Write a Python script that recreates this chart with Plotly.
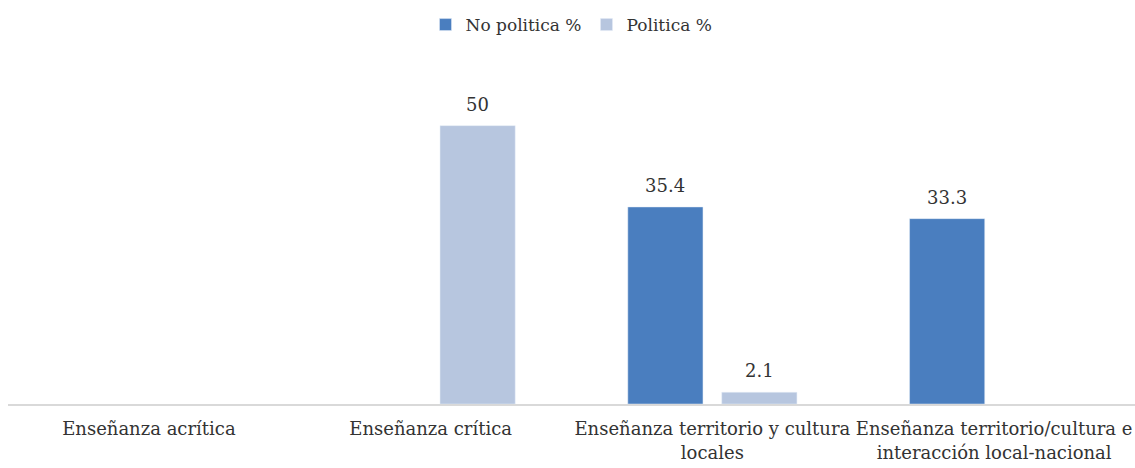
import plotly.graph_objects as go

categories = [
    "Enseñanza acrítica",
    "Enseñanza crítica",
    "Enseñanza territorio y cultura<br>locales",
    "Enseñanza territorio/cultura e<br>interacción local-nacional",
]
no_politica = [None, None, 35.4, 33.3]
politica = [None, 50, 2.1, None]
series_names = ["No politica %", "Politica %"]
series_colors = ["#4A7EBF", "#B7C6DF"]

FONT = "DejaVu Serif, Liberation Serif, serif"
TEXT_COLOR = "#333333"

fig = go.Figure()
for name, vals, color in zip(series_names, [no_politica, politica], series_colors):
    fig.add_trace(go.Bar(x=categories, y=vals, name=name, marker_color=color))

# value labels sit a little above each bar, shifted to its slot in the group
slot_shift = {0: -47, 1: 47}
for i, vals in enumerate([no_politica, politica]):
    for cat, v in zip(categories, vals):
        if v is None:
            continue
        fig.add_annotation(
            x=cat, y=v, xref="x", yref="y", text=f"{v:g}", showarrow=False,
            xshift=slot_shift[i], yshift=9, yanchor="bottom",
            font=dict(family=FONT, size=18, color=TEXT_COLOR),
        )

fig.update_layout(
    width=1135, height=468,
    barmode="group", bargap=0.333, bargroupgap=0.2,
    margin=dict(l=8, r=0, t=70, b=64),
    paper_bgcolor="white", plot_bgcolor="white",
    font=dict(family=FONT, size=18, color=TEXT_COLOR),
    legend=dict(
        orientation="h", x=0.5, xanchor="center", y=0.985, yanchor="top",
        yref="container", font=dict(family=FONT, size=17, color=TEXT_COLOR),
        itemwidth=30, traceorder="normal",
    ),
    xaxis=dict(
        showline=True, linecolor="#D9D9D9", linewidth=1.5,
        ticks="", tickfont=dict(family=FONT, size=18, color=TEXT_COLOR),
        ticklabelstandoff=8, showgrid=False,
    ),
    yaxis=dict(range=[0, 60], visible=False, showgrid=False, zeroline=False),
)

fig.write_html("out.html")
